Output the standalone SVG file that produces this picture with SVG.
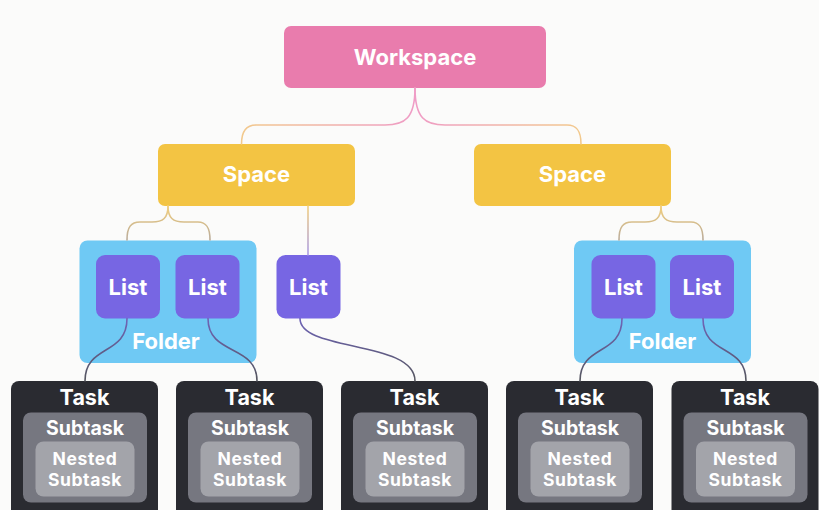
<svg xmlns="http://www.w3.org/2000/svg" width="819" height="510" viewBox="0 0 819 510">
<defs>
<linearGradient id="gWL" x1="0" y1="0" x2="1" y2="0"><stop offset="0" stop-color="#f2c98c"/><stop offset="1" stop-color="#ef9cc6"/></linearGradient>
<linearGradient id="gWR" x1="0" y1="0" x2="1" y2="0"><stop offset="0" stop-color="#ef9cc6"/><stop offset="1" stop-color="#f2c98c"/></linearGradient>
<linearGradient id="gSF" x1="0" y1="0" x2="0" y2="1"><stop offset="0" stop-color="#f2cf7e"/><stop offset="1" stop-color="#b9ab9a"/></linearGradient>
<linearGradient id="gSL" gradientUnits="userSpaceOnUse" x1="0" y1="206" x2="0" y2="255"><stop offset="0" stop-color="#f2cf7e"/><stop offset="1" stop-color="#a99be6"/></linearGradient>
<linearGradient id="gLT" x1="0" y1="0" x2="0" y2="1"><stop offset="0" stop-color="#6f64b8"/><stop offset="1" stop-color="#55565e"/></linearGradient>
<style>
.bg{fill:#fbfbfa}
.ws{fill:#e97cad}
.sp{fill:#f3c443}
.fd{fill:#6fc9f4}
.ls{fill:#7766e3}
.tk{fill:#2a2b31}
.st{fill:#767780}
.ns{fill:#a3a4aa}
.t{font-family:Inter,"Liberation Sans",sans-serif;font-weight:700;fill:#ffffff;text-anchor:middle}
.big{font-size:22px}
.mid{font-size:21.5px}
.sm{font-size:19.5px}
.xs{font-size:17.5px;letter-spacing:0.6px}
.c{fill:none;stroke-width:1.6;stroke-linecap:round}
</style>
</defs>
<rect class="bg" x="0" y="0" width="819" height="510"/>
<g id="workspace"><rect class="ws" x="284" y="26" width="262" height="62" rx="7"/><text class="t big" x="415" y="65">Workspace</text></g>
<g id="space1"><rect class="sp" x="158" y="144" width="197" height="62" rx="7"/><text class="t big" x="256.5" y="182">Space</text></g>
<g id="space2"><rect class="sp" x="474" y="144" width="197" height="62" rx="7"/><text class="t big" x="572.5" y="182">Space</text></g>
<g id="folder1"><rect class="fd" x="79.5" y="240.5" width="177" height="122.5" rx="8"/><text class="t big" x="166" y="349">Folder</text></g>
<g id="list1"><rect class="ls" x="96" y="255" width="64" height="63.5" rx="9"/><text class="t big" x="128" y="295">List</text></g>
<g id="list2"><rect class="ls" x="175.5" y="255" width="64" height="63.5" rx="9"/><text class="t big" x="207.5" y="295">List</text></g>
<g id="list3"><rect class="ls" x="276.5" y="255" width="64" height="63.5" rx="9"/><text class="t big" x="308.5" y="295">List</text></g>
<g id="folder2"><rect class="fd" x="574" y="240.5" width="177" height="122.5" rx="8"/><text class="t big" x="662.5" y="349">Folder</text></g>
<g id="list4"><rect class="ls" x="591.5" y="255" width="64" height="63.5" rx="9"/><text class="t big" x="623.5" y="295">List</text></g>
<g id="list5"><rect class="ls" x="670" y="255" width="64" height="63.5" rx="9"/><text class="t big" x="702" y="295">List</text></g>
<g id="task1"><rect class="tk" x="11" y="381" width="147" height="140" rx="8"/><rect class="st" x="23" y="412.5" width="124" height="90" rx="8"/><rect class="ns" x="35.5" y="441.5" width="99" height="55" rx="8"/><text class="t mid" x="84.5" y="405">Task</text><text class="t sm" x="85" y="435">Subtask</text><text class="t xs" x="85" y="465">Nested</text><text class="t xs" x="85" y="486">Subtask</text></g>
<g id="task2"><rect class="tk" x="176" y="381" width="147" height="140" rx="8"/><rect class="st" x="188" y="412.5" width="124" height="90" rx="8"/><rect class="ns" x="200.5" y="441.5" width="99" height="55" rx="8"/><text class="t mid" x="249.5" y="405">Task</text><text class="t sm" x="250" y="435">Subtask</text><text class="t xs" x="250" y="465">Nested</text><text class="t xs" x="250" y="486">Subtask</text></g>
<g id="task3"><rect class="tk" x="341" y="381" width="147" height="140" rx="8"/><rect class="st" x="353" y="412.5" width="124" height="90" rx="8"/><rect class="ns" x="365.5" y="441.5" width="99" height="55" rx="8"/><text class="t mid" x="414.5" y="405">Task</text><text class="t sm" x="415" y="435">Subtask</text><text class="t xs" x="415" y="465">Nested</text><text class="t xs" x="415" y="486">Subtask</text></g>
<g id="task4"><rect class="tk" x="506" y="381" width="147" height="140" rx="8"/><rect class="st" x="518" y="412.5" width="124" height="90" rx="8"/><rect class="ns" x="530.5" y="441.5" width="99" height="55" rx="8"/><text class="t mid" x="579.5" y="405">Task</text><text class="t sm" x="580" y="435">Subtask</text><text class="t xs" x="580" y="465">Nested</text><text class="t xs" x="580" y="486">Subtask</text></g>
<g id="task5"><rect class="tk" x="671.5" y="381" width="147" height="140" rx="8"/><rect class="st" x="683.5" y="412.5" width="124" height="90" rx="8"/><rect class="ns" x="696" y="441.5" width="99" height="55" rx="8"/><text class="t mid" x="745" y="405">Task</text><text class="t sm" x="745.5" y="435">Subtask</text><text class="t xs" x="745.5" y="465">Nested</text><text class="t xs" x="745.5" y="486">Subtask</text></g>
<g id="connectors">
<path class="c" stroke="url(#gWL)" d="M415,88 C415,118 405,125 385,125 L256,125 C246,125 241.5,131 241.5,144"/>
<path class="c" stroke="url(#gWR)" d="M415,88 C415,118 425,125 445,125 L567,125 C577,125 581,131 581,144"/>
<path class="c" stroke="url(#gSF)" d="M168,206 C168,218 163,222 152,222 L140,222 C131,222 127,227 127,240"/>
<path class="c" stroke="url(#gSF)" d="M168,206 C168,218 173,222 184,222 L198,222 C206,222 210,227 210,240"/>
<path class="c" stroke="url(#gSL)" d="M308,206 L308,255"/>
<path class="c" stroke="url(#gSF)" d="M661,206 C661,218 656,222 645,222 L632,222 C623,222 619,227 619,240"/>
<path class="c" stroke="url(#gSF)" d="M661,206 C661,218 666,222 677,222 L691,222 C699,222 703,227 703,240"/>
<path class="c" stroke="url(#gLT)" d="M127,318.5 C127,356 85,344 85,381"/>
<path class="c" stroke="url(#gLT)" d="M208,318.5 C208,356 257,344 257,381"/>
<path class="c" stroke="url(#gLT)" d="M300,318.5 C300,352 415,340 415,381"/>
<path class="c" stroke="url(#gLT)" d="M622,318.5 C622,356 580,344 580,381"/>
<path class="c" stroke="url(#gLT)" d="M703,318.5 C703,356 746,344 746,381"/>
</g>
</svg>
